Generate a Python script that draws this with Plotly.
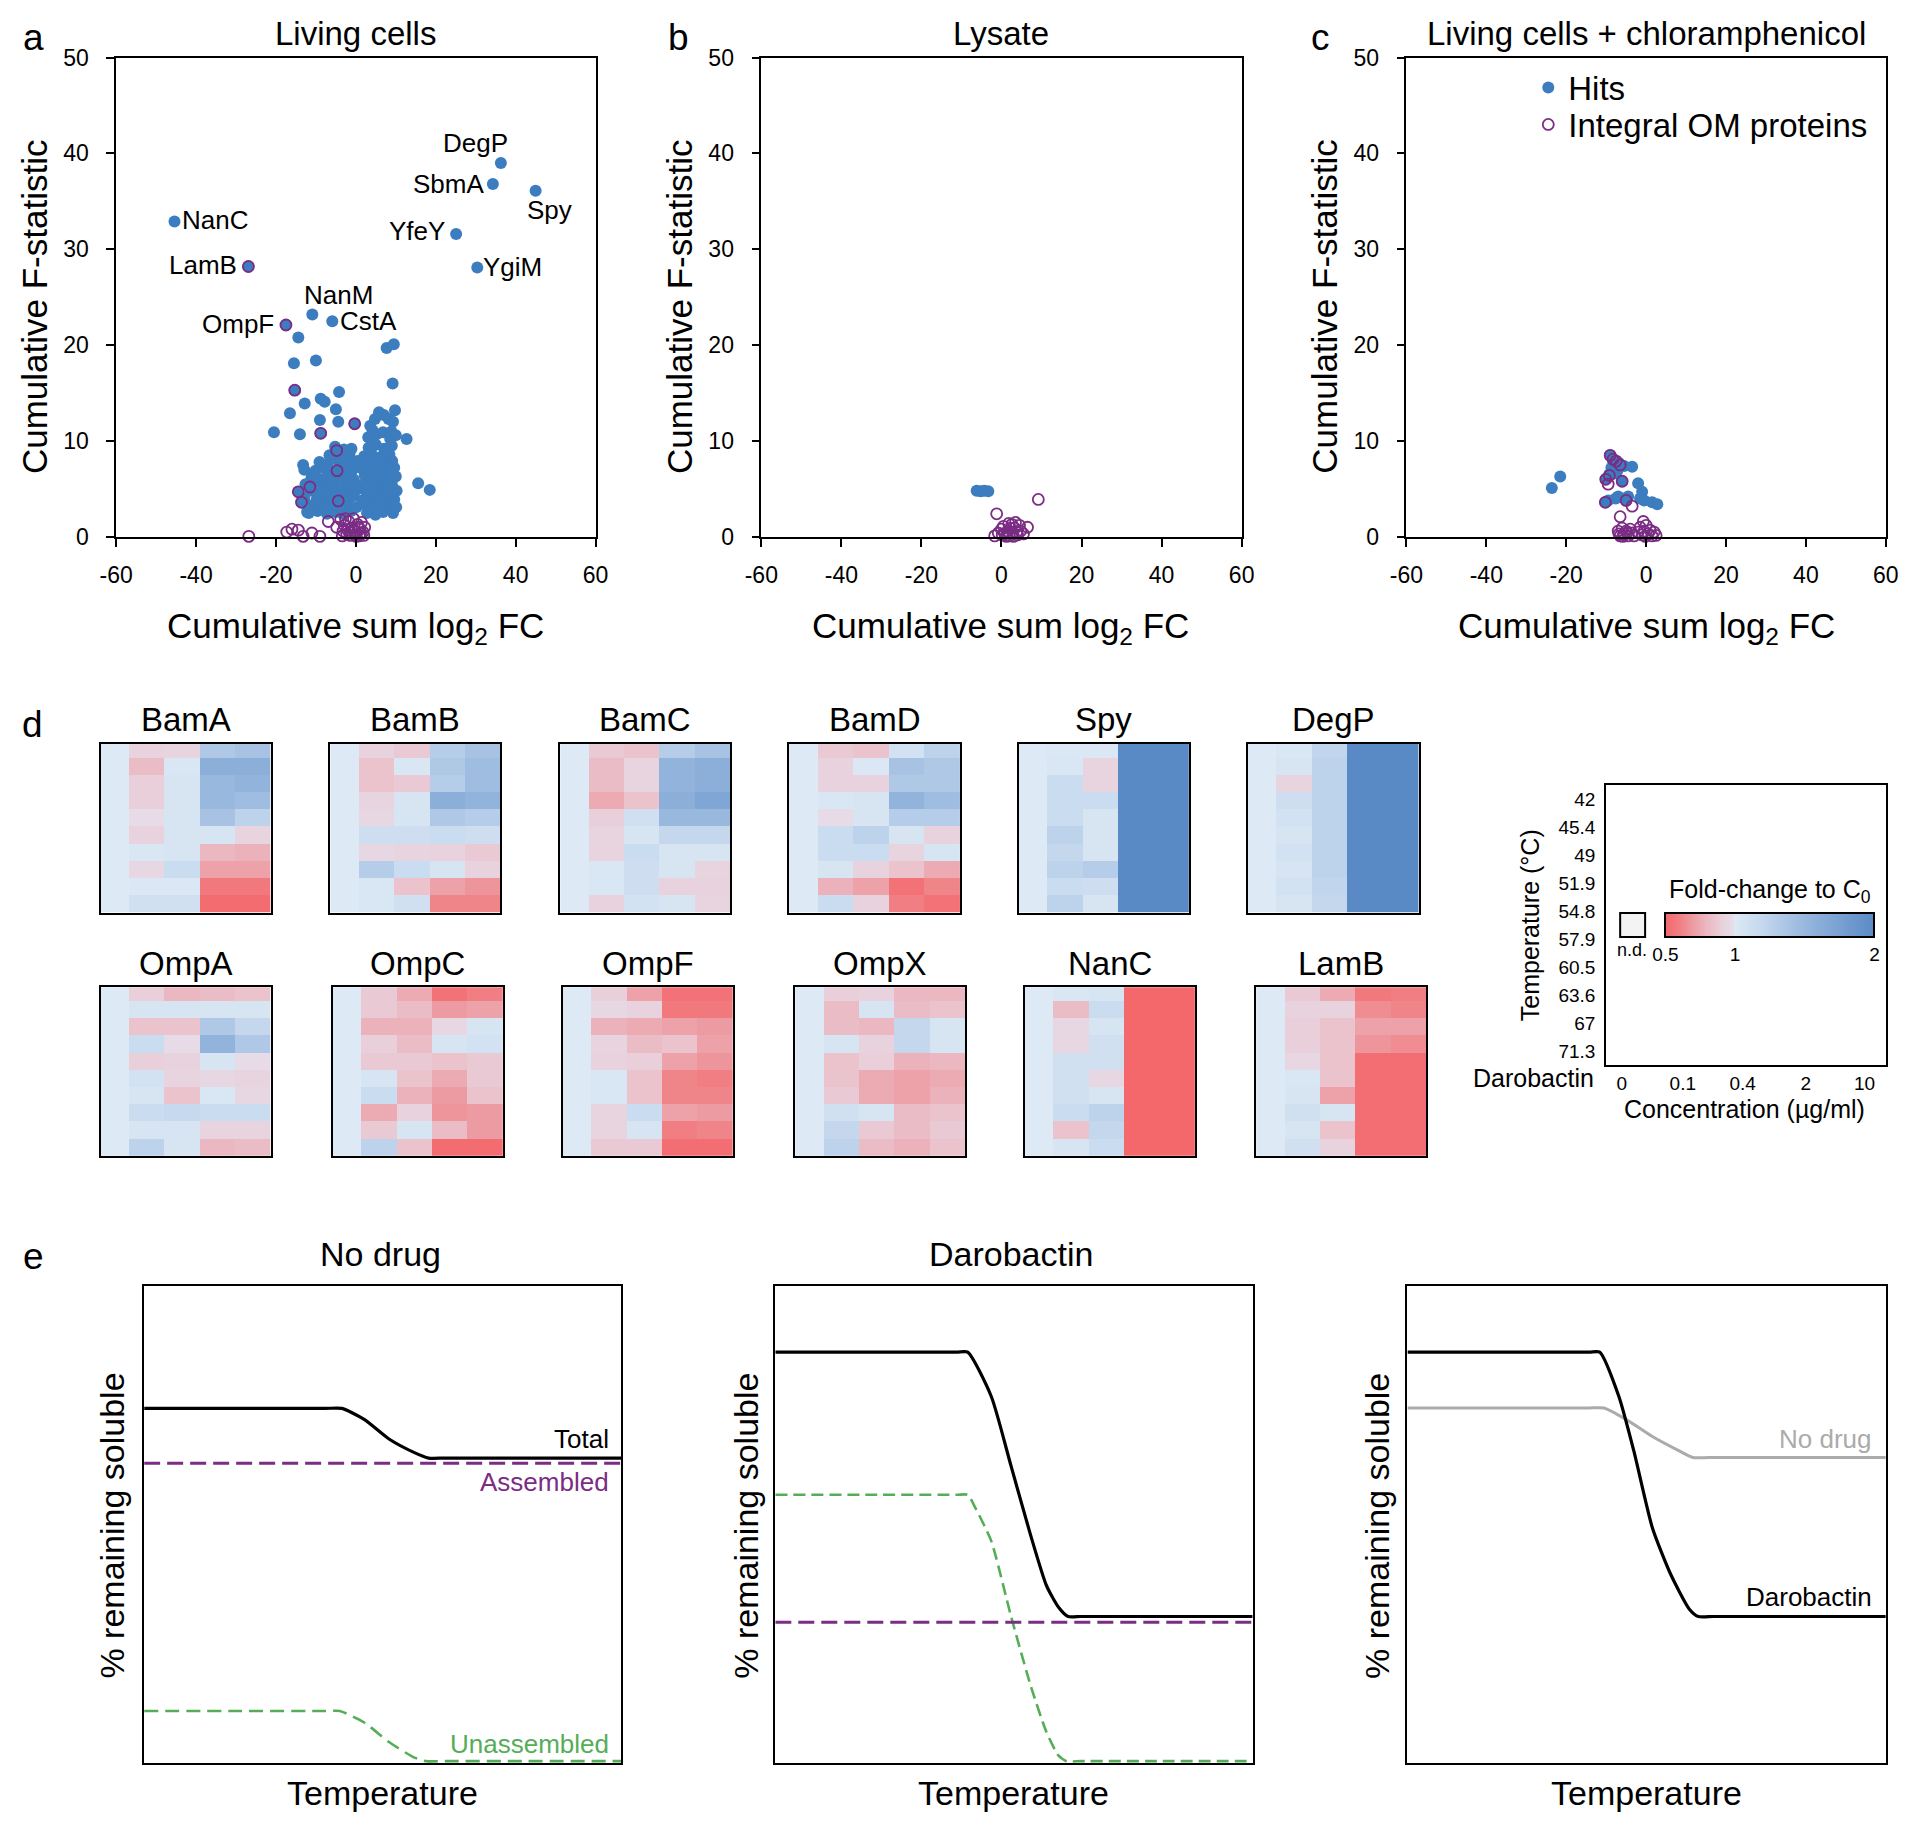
import plotly.graph_objects as go

W, H = 1920, 1826
FONT = "Liberation Sans, Arial, Helvetica, sans-serif"
BLUE = "#3B7DBE"
PURPLE = "#7B2C84"
GREEN = "#55AE57"
GREY = "#ABABAB"

# ---------------- panel a : Living cells ----------------
a_hits = [
    (-45.4, 32.9), (-26.9, 28.2), (-17.5, 22.1), (-10.9, 23.2), (-5.9, 22.5),
    (36.3, 39.0), (34.3, 36.8), (45.0, 36.1), (25.1, 31.6), (30.4, 28.1),
    (-14.4, 20.8), (7.7, 19.7), (9.5, 20.1), (-15.5, 18.1), (-10.0, 18.4), (9.2, 16.0),
    (-15.3, 15.3), (-4.2, 15.1), (-8.8, 14.4), (-7.8, 14.1), (-12.8, 13.9), (-5.0, 13.3),
    (-16.5, 12.9), (-9.0, 12.2), (-4.4, 12.0), (-0.3, 11.8), (5.8, 13.0), (4.8, 12.3),
    (9.8, 13.2), (9.3, 12.0), (8.2, 12.3), (7.0, 12.7), (-20.5, 10.9), (-14.0, 10.7),
    (-8.8, 10.8), (12.7, 10.2), (3.1, 10.4), (6.8, 10.9), (8.6, 10.2), (-1.1, 9.2),
    (-4.8, 9.0), (-13.2, 7.5), (-4.7, 6.9), (15.6, 5.6), (18.5, 4.9), (-14.4, 4.7),
    (-11.5, 5.2), (-13.6, 3.6), (-4.4, 3.75), (-12.2, 2.6),
    (-11.8, 2.5), (-9.6, 2.7), (-7.2, 2.4), (-5.1, 2.6), (-3.3, 2.4), (-1.2, 2.7), (2.8, 2.5),
    (4.9, 2.3), (6.8, 2.6), (9.3, 2.5),
    (-10.7, 3.3), (-8.4, 3.1), (-6.3, 3.4), (-3.9, 3.2), (-2.1, 3.5), (0.2, 3.1), (2.4, 3.4),
    (4.3, 3.2), (6.4, 3.5), (8.6, 3.3), (10.1, 3.1),
    (-12.9, 4.0), (-9.8, 3.9), (-7.9, 4.2), (-5.6, 4.1), (-2.8, 3.9), (-0.9, 4.2), (1.6, 3.8),
    (3.6, 4.1), (5.5, 3.9), (7.6, 4.2), (9.6, 3.9),
    (-11.4, 4.8), (-9.1, 4.6), (-6.8, 5.0), (-4.6, 4.7), (-2.4, 4.9), (-0.4, 4.6), (2.1, 4.9),
    (4.1, 4.7), (6.2, 5.0), (8.1, 4.6), (10.2, 4.8),
    (-12.6, 5.5), (-10.2, 5.7), (-8.1, 5.4), (-6.0, 5.6), (-3.5, 5.3), (-1.6, 5.7), (0.6, 5.4),
    (3.0, 5.6), (5.1, 5.3), (7.2, 5.7), (9.0, 5.5),
    (-11.1, 6.2), (-8.9, 6.0), (-7.1, 6.4), (-5.2, 6.1), (-2.6, 6.3), (-0.6, 6.0), (2.2, 6.4),
    (4.0, 6.1), (6.0, 6.3), (8.0, 6.0), (10.0, 6.3),
    (-12.9, 7.0), (-10.1, 6.9), (-8.0, 7.2), (-6.1, 6.8), (-3.1, 7.1), (-1.0, 6.9), (1.1, 7.2),
    (3.6, 6.8), (5.6, 7.1), (7.5, 6.9), (9.6, 7.2),
    (-9.1, 7.8), (-7.0, 7.6), (-4.4, 8.0), (-2.1, 7.7), (0.4, 7.9), (3.0, 7.6), (5.1, 8.0),
    (7.1, 7.7), (9.1, 7.9),
    (-6.6, 8.5), (-3.9, 8.3), (-1.6, 8.7), (2.1, 8.4), (4.0, 8.6), (6.1, 8.3), (8.4, 8.6),
    (-5.2, 9.4), (-3.0, 9.1), (3.2, 9.3), (5.0, 9.6), (7.1, 9.2), (9.0, 9.5),
    (4.2, 11.1), (5.2, 10.7), (8.9, 11.0), (10.0, 10.6), (3.6, 11.6),
]
a_om = [
    (-26.9, 28.2), (-17.5, 22.1), (-15.3, 15.3), (-0.3, 11.8), (-8.8, 10.8), (-4.8, 9.0),
    (-4.7, 6.9), (-14.4, 4.7), (-11.5, 5.2), (-13.6, 3.6), (-4.4, 3.75),
    (-26.8, 0.05), (-17.3, 0.5), (-16.0, 0.8), (-14.4, 0.7), (-13.2, 0.05), (-11.0, 0.4),
    (-9.0, 0.05), (-6.9, 1.6), (-4.8, 1.0), (-3.2, 0.6), (-1.5, 0.45), (-0.25, 0.2), (1.0, 0.8),
    (-3.8, 1.8), (-2.9, 1.2), (-2.3, 0.3), (-1.8, 1.6), (-1.1, 0.9), (-0.6, 1.9), (-0.2, 0.6),
    (0.4, 1.3), (0.9, 0.1), (1.4, 1.5), (1.8, 0.5), (2.2, 1.0), (-3.4, 0.1), (-2.0, 0.7),
    (0.1, 0.05), (1.2, 0.35), (-1.4, 0.15), (0.7, 1.0), (-2.6, 1.9), (2.0, 0.15),
]
a_names = ["DegP", "SbmA", "Spy", "YfeY", "YgiM", "NanC", "LamB", "NanM", "OmpF", "CstA"]

# ---------------- panel b : Lysate ----------------
b_hits = [(-6.2, 4.8), (-5.2, 4.75), (-4.3, 4.8), (-3.3, 4.75)]
b_om = [
    (9.2, 3.9), (-1.2, 2.4), (6.5, 1.0), (3.5, 1.5), (2.6, 1.3), (-1.7, 0.1), (0.0, 0.8),
    (0.8, 0.3), (1.5, 0.6), (2.0, 0.1), (2.8, 0.4), (3.3, 0.9), (4.0, 0.2), (4.8, 0.6),
    (5.5, 0.3), (0.5, 1.1), (1.2, 0.05), (2.3, 0.9), (3.8, 0.5), (-0.8, 0.4), (4.5, 1.2),
    (1.8, 1.4), (0.2, 0.2), (3.0, 0.05),
]

# ---------------- panel c : Living cells + chloramphenicol ----------------
c_hits = [
    (-23.6, 5.1), (-21.5, 6.3), (-9.0, 8.5), (-8.3, 8.1), (-6.8, 7.7), (-5.5, 7.4), (-3.5, 7.3),
    (-10.1, 6.0), (-9.2, 6.5), (-8.0, 6.6), (-6.0, 5.8), (-2.0, 5.6), (-1.0, 4.7), (-10.2, 3.6),
    (-9.5, 3.8), (-7.6, 4.0), (-5.0, 3.8), (-0.5, 3.8), (1.5, 3.6), (2.8, 3.4), (-7.0, 4.2),
    (-1.5, 4.0), (-4.5, 4.2), (-8.7, 7.2), (-7.2, 6.9),
]
c_om = [
    (-9.0, 8.5), (-8.3, 8.1), (-7.5, 7.9), (-6.5, 7.5), (-10.1, 6.0), (-9.5, 5.5), (-9.2, 6.4),
    (-6.0, 5.8), (-10.2, 3.6), (-5.0, 3.8), (-3.5, 3.2), (-6.5, 2.1), (-0.7, 1.6),
    (-7.0, 0.6), (-6.5, 0.1), (-6.0, 0.9), (-5.5, 0.3), (-5.0, 0.6), (-4.5, 0.1), (-4.0, 0.8),
    (-3.5, 0.4), (-3.0, 0.1), (-2.0, 0.5), (-1.5, 1.0), (-1.0, 0.2), (-0.5, 0.6), (0.0, 1.2),
    (0.5, 0.3), (1.0, 0.7), (1.5, 0.1), (2.0, 0.5), (2.5, 0.15), (-6.8, 0.3), (-5.8, 0.05),
    (-4.8, 0.4), (-0.2, 0.05),
]
x_ticks = [-60, -40, -20, 0, 20, 40, 60]
y_ticks = [0, 10, 20, 30, 40, 50]

# ---------------- panel d : fold change heatmaps ----------------
temps = ["42", "45.4", "49", "51.9", "54.8", "57.9", "60.5", "63.6", "67", "71.3"]
concs = ["0", "0.1", "0.4", "2", "10"]

bamA = [[1, 0.92, 0.93, 1.35, 1.40], [1, 0.82, 1.03, 1.60, 1.60], [1, 0.90, 1.05, 1.50, 1.55],
        [1, 0.90, 1.05, 1.50, 1.45], [1, 0.97, 1.05, 1.40, 1.25], [1, 0.92, 1.05, 1.05, 0.93],
        [1, 1.03, 1.05, 0.80, 0.78], [1, 0.95, 1.15, 0.72, 0.72], [1, 1.02, 1.02, 0.58, 0.58],
        [1, 1.10, 1.10, 0.52, 0.52]]
bamB = [[1, 0.92, 0.88, 1.30, 1.40], [1, 0.85, 1.03, 1.35, 1.45], [1, 0.85, 0.88, 1.30, 1.45],
        [1, 0.93, 1.05, 1.60, 1.55], [1, 0.95, 1.05, 1.35, 1.30], [1, 1.12, 1.12, 1.15, 1.12],
        [1, 0.95, 0.93, 0.92, 0.88], [1, 1.30, 1.15, 1.05, 0.92], [1, 1.03, 0.85, 0.72, 0.68],
        [1, 1.03, 1.10, 0.62, 0.62]]
bamC = [[1, 0.88, 0.85, 1.30, 1.40], [1, 0.82, 0.93, 1.55, 1.60], [1, 0.82, 0.93, 1.55, 1.60],
        [1, 0.75, 0.85, 1.60, 1.70], [1, 0.90, 1.10, 1.50, 1.50], [1, 0.93, 1.05, 1.20, 1.20],
        [1, 0.93, 1.15, 1.05, 1.05], [1, 1.03, 1.12, 1.05, 0.93], [1, 1.03, 1.12, 0.92, 0.92],
        [1, 0.92, 1.08, 1.05, 0.93]]
bamD = [[1, 0.88, 0.85, 1.08, 1.25], [1, 0.92, 1.02, 1.40, 1.35], [1, 0.92, 0.92, 1.35, 1.35],
        [1, 1.03, 1.05, 1.55, 1.45], [1, 0.97, 1.05, 1.30, 1.30], [1, 1.15, 1.25, 1.05, 0.92],
        [1, 1.15, 1.15, 0.93, 1.05], [1, 1.05, 0.92, 0.85, 0.75], [1, 0.78, 0.72, 0.55, 0.62],
        [1, 1.15, 0.92, 0.60, 0.55]]
spy = [[1, 1.02, 1.02, 2, 2], [1, 1.03, 0.93, 2, 2], [1, 1.15, 0.93, 2, 2], [1, 1.15, 1.15, 2, 2],
       [1, 1.15, 1.05, 2, 2], [1, 1.25, 1.05, 2, 2], [1, 1.20, 1.05, 2, 2], [1, 1.25, 1.30, 2, 2],
       [1, 1.15, 1.12, 2, 2], [1, 1.25, 1.05, 2, 2]]
degP = [[1, 1.03, 1.22, 2, 2], [1, 1.05, 1.25, 2, 2], [1, 0.93, 1.25, 2, 2], [1, 1.12, 1.25, 2, 2],
        [1, 1.08, 1.25, 2, 2], [1, 1.05, 1.25, 2, 2], [1, 1.08, 1.25, 2, 2], [1, 1.05, 1.25, 2, 2],
        [1, 1.08, 1.22, 2, 2], [1, 1.05, 1.20, 2, 2]]
ompA = [[1, 0.90, 0.80, 0.82, 0.85], [1, 1.05, 1.05, 1.05, 1.05], [1, 0.85, 0.85, 1.35, 1.20],
        [1, 1.15, 0.97, 1.55, 1.35], [1, 0.90, 0.92, 1.05, 0.97], [1, 1.08, 0.93, 0.95, 0.93],
        [1, 1.05, 0.85, 1.03, 0.95], [1, 1.15, 1.18, 1.15, 1.15], [1, 1.05, 1.05, 0.93, 0.93],
        [1, 1.25, 1.05, 0.80, 0.82]]
ompC = [[1, 0.88, 0.75, 0.55, 0.60], [1, 0.88, 0.82, 0.70, 0.72], [1, 0.78, 0.78, 0.95, 1.05],
        [1, 0.90, 0.82, 1.05, 1.08], [1, 0.88, 0.88, 0.85, 0.88], [1, 1.05, 0.85, 0.75, 0.88],
        [1, 1.15, 0.78, 0.70, 0.85], [1, 0.75, 0.92, 0.68, 0.70], [1, 0.88, 1.05, 0.82, 0.70],
        [1, 1.25, 0.85, 0.52, 0.52]]
ompF = [[1, 0.90, 0.72, 0.55, 0.55], [1, 0.95, 0.92, 0.58, 0.58], [1, 0.78, 0.75, 0.72, 0.70],
        [1, 0.93, 0.82, 0.85, 0.72], [1, 0.92, 0.90, 0.72, 0.68], [1, 1.03, 0.85, 0.62, 0.60],
        [1, 1.03, 0.85, 0.62, 0.62], [1, 0.93, 1.15, 0.72, 0.70], [1, 0.93, 1.05, 0.60, 0.62],
        [1, 0.88, 0.88, 0.53, 0.53]]
ompX = [[1, 0.90, 0.92, 0.80, 0.80], [1, 0.82, 1.05, 0.82, 0.85], [1, 0.82, 0.80, 1.20, 1.05],
        [1, 1.05, 0.92, 1.20, 1.05], [1, 0.85, 0.90, 0.78, 0.80], [1, 0.85, 0.75, 0.72, 0.75],
        [1, 0.88, 0.75, 0.72, 0.78], [1, 1.10, 1.05, 0.82, 0.85], [1, 1.20, 0.88, 0.82, 0.88],
        [1, 1.25, 0.82, 0.78, 0.85]]
nanC = [[1, 1.03, 1.05, 0.5, 0.5], [1, 0.82, 1.15, 0.5, 0.5], [1, 0.95, 1.05, 0.5, 0.5],
        [1, 0.95, 1.10, 0.5, 0.5], [1, 1.10, 1.10, 0.5, 0.5], [1, 1.10, 0.95, 0.5, 0.5],
        [1, 1.10, 1.05, 0.5, 0.5], [1, 1.15, 1.25, 0.5, 0.5], [1, 0.85, 1.20, 0.5, 0.5],
        [1, 1.05, 1.15, 0.5, 0.5]]
lamB = [[1, 0.88, 0.75, 0.58, 0.60], [1, 0.92, 0.92, 0.65, 0.62], [1, 0.90, 0.85, 0.72, 0.72],
        [1, 0.90, 0.85, 0.68, 0.65], [1, 0.95, 0.85, 0.53, 0.53], [1, 1.03, 0.85, 0.53, 0.53],
        [1, 1.05, 0.72, 0.53, 0.53], [1, 1.10, 1.05, 0.53, 0.53], [1, 1.05, 0.85, 0.53, 0.53],
        [1, 1.10, 0.92, 0.53, 0.53]]
heat_names = ["BamA", "BamB", "BamC", "BamD", "Spy", "DegP",
              "OmpA", "OmpC", "OmpF", "OmpX", "NanC", "LamB"]
heat_values = [bamA, bamB, bamC, bamD, spy, degP, ompA, ompC, ompF, ompX, nanC, lamB]
cbar_ticks = [0.5, 1, 2]

# ---------------- panel e : schematic melting curves ----------------
e1_total_t = [0, 0.2, 0.38, 0.414, 0.461, 0.513, 0.565, 0.596, 0.63, 0.8, 1.0]
e1_total_v = [0.743, 0.743, 0.743, 0.743, 0.72, 0.679, 0.651, 0.639, 0.639, 0.639, 0.639]
e1_assembled_t = [0, 1.0]
e1_assembled_v = [0.628, 0.628]
e1_unassembled_t = [0, 0.2, 0.38, 0.41, 0.461, 0.513, 0.565, 0.591, 0.63, 0.8, 1.0]
e1_unassembled_v = [0.109, 0.109, 0.109, 0.109, 0.085, 0.044, 0.012, 0.004, 0.004, 0.004, 0.004]
e2_total_t = [0, 0.2, 0.38, 0.403, 0.4525, 0.494, 0.535, 0.568, 0.593, 0.6135, 0.64, 0.8, 1.0]
e2_total_v = [0.861, 0.861, 0.861, 0.861, 0.768, 0.622, 0.477, 0.372, 0.327, 0.307, 0.307,
              0.307, 0.307]
e2_assembled_t = [0, 1.0]
e2_assembled_v = [0.295, 0.295]
e2_unassembled_t = [0, 0.2, 0.38, 0.403, 0.42, 0.4525, 0.494, 0.535, 0.568, 0.593, 0.61, 0.64,
                    0.8, 1.0]
e2_unassembled_v = [0.562, 0.562, 0.562, 0.562, 0.533, 0.465, 0.307, 0.162, 0.065, 0.016, 0.004,
                    0.004, 0.004, 0.004]
e3_daro_t = [0, 0.2, 0.38, 0.402, 0.442, 0.473, 0.512, 0.55, 0.589, 0.608, 0.64, 0.8, 1.0]
e3_daro_v = [0.861, 0.861, 0.861, 0.861, 0.768, 0.655, 0.493, 0.396, 0.323, 0.307, 0.307,
             0.307, 0.307]
e3_nodrug_t = [0, 0.2, 0.38, 0.411, 0.457, 0.512, 0.566, 0.597, 0.63, 0.8, 1.0]
e3_nodrug_v = [0.744, 0.744, 0.744, 0.744, 0.72, 0.684, 0.655, 0.64, 0.64, 0.64, 0.64]

# =====================================================================
# pixel placement helpers (target pixel positions of the reference page)
SX, OX = 0.9857, 24.7
SY, OY = 0.9872, 19.4


def px(x):
    return (x - OX) / SX / W


def py(y):
    return 1 - (y - OY) / SY / H


fig = go.Figure()
layout = dict(width=W, height=H, margin=dict(l=0, r=0, t=0, b=0),
              paper_bgcolor="white", plot_bgcolor="white",
              font=dict(family=FONT, color="black"))
annotations = []


def ref(i):
    return ("x", "y") if i == 1 else (f"x{i}", f"y{i}")


def add_axes(i, x0, x1, y0, y1, xcfg, ycfg):
    xk = "xaxis" if i == 1 else f"xaxis{i}"
    yk = "yaxis" if i == 1 else f"yaxis{i}"
    xr, yr = ref(i)
    layout[xk] = dict(domain=[px(x0), px(x1)], anchor=yr, **xcfg)
    layout[yk] = dict(domain=[py(y1), py(y0)], anchor=xr, **ycfg)
    return xr, yr


def ann(text, x, y, size, color="black", angle=0, xanchor="center", yanchor="middle"):
    annotations.append(dict(text=text, x=px(x), y=py(y), xref="paper", yref="paper",
                            showarrow=False, textangle=angle, xanchor=xanchor, yanchor=yanchor,
                            font=dict(family=FONT, size=size, color=color)))


def frame_axis(**kw):
    d = dict(showline=True, linewidth=2, linecolor="black", mirror=True,
             showgrid=False, zeroline=False, ticks="", showticklabels=False)
    d.update(kw)
    return d


# ---------- scatter panels ----------
def sc_x():
    return dict(range=[-60, 60], tickvals=x_ticks, ticktext=[str(v) for v in x_ticks],
                ticks="outside", ticklen=8, tickwidth=1.5, tickcolor="black", showline=True,
                linewidth=1.5, linecolor="black", mirror=True, showgrid=False, zeroline=False,
                tickfont=dict(family=FONT, size=23, color="black"), ticklabelstandoff=9)


def sc_y():
    return dict(range=[0, 50], tickvals=y_ticks, ticktext=[str(v) for v in y_ticks],
                ticks="outside", ticklen=8, tickwidth=1.5, tickcolor="black", showline=True,
                linewidth=1.5, linecolor="black", mirror=True, showgrid=False, zeroline=False,
                tickfont=dict(family=FONT, size=23, color="black"), ticklabelstandoff=13)


scatter_panels = [
    (1, 116, 596, a_hits, a_om, True),
    (2, 762, 1243, b_hits, b_om, False),
    (3, 1408, 1888, c_hits, c_om, False),
]
for i, x0, x1, hits, om, leg in scatter_panels:
    xr, yr = add_axes(i, x0, x1, 56, 536, sc_x(), sc_y())
    fig.add_trace(go.Scatter(x=[p[0] for p in hits], y=[p[1] for p in hits], mode="markers",
                             xaxis=xr, yaxis=yr, name="Hits", showlegend=leg, cliponaxis=False,
                             legend="legend",
                             marker=dict(symbol="circle", size=12, color=BLUE, line=dict(width=0))))
    fig.add_trace(go.Scatter(x=[p[0] for p in om], y=[p[1] for p in om], mode="markers",
                             xaxis=xr, yaxis=yr, name="Integral OM proteins", showlegend=leg,
                             cliponaxis=False, legend="legend2",
                             marker=dict(symbol="circle-open", size=11, color=PURPLE,
                                         line=dict(width=1.8, color=PURPLE))))

# labels of named proteins in panel a
a_label_pos = [(29.9, 41.1), (23.3, 36.8), (48.6, 34.1), (15.4, 31.9), (39.3, 28.2),
               (-35.3, 33.1), (-38.3, 28.4), (-4.4, 25.2), (-29.4, 22.2), (3.2, 22.5)]
for name, (lx, ly) in zip(a_names, a_label_pos):
    annotations.append(dict(text=name, x=lx, y=ly, xref="x", yref="y", showarrow=False,
                            xanchor="center", yanchor="middle",
                            font=dict(family=FONT, size=26, color="black")))

for letter, lx in [("a", 33.6), ("b", 679.5), ("c", 1322)]:
    ann(letter, lx, 36, 37)
ann("Living cells", 356, 31.6, 33)
ann("Lysate", 1002, 31.6, 33)
ann("Living cells + chloramphenicol", 1648, 31.6, 33)
for yx in [33.6, 679.5, 1326]:
    ann("Cumulative F-statistic", yx, 305, 35, angle=-90)
for cx in [356, 1002, 1648]:
    ann("Cumulative sum log<sub>2</sub> FC", cx, 627, 35)

# ---------- heatmaps ----------
heat_boxes = [
    (100.4, 270.6, 743.3, 912.3), (330.6, 500.8, 743.3, 912.3), (560.8, 731.0, 743.3, 912.3),
    (789.8, 961.2, 743.3, 912.3), (1020.0, 1190.2, 743.3, 912.3), (1249.0, 1420.4, 743.3, 912.3),
    (100.4, 270.6, 987.0, 1156.0), (333.0, 503.3, 987.0, 1156.0), (563.3, 733.5, 987.0, 1156.0),
    (796.0, 966.0, 987.0, 1156.0), (1026.0, 1196.3, 987.0, 1156.0), (1257.6, 1427.8, 987.0, 1156.0),
]
cscale = [
    [0.0, "rgb(244,103,107)"], [0.0667, "rgb(240,126,131)"], [0.1333, "rgb(237,155,162)"],
    [0.2, "rgb(235,184,193)"], [0.2667, "rgb(232,207,217)"], [0.326, "rgb(229,222,233)"],
    [0.3334, "rgb(221,233,245)"], [0.4667, "rgb(196,215,237)"], [0.6667, "rgb(152,184,222)"],
    [1.0, "rgb(90,138,198)"],
]
for k, (name, z, (x0, x1, y0, y1)) in enumerate(zip(heat_names, heat_values, heat_boxes)):
    i = 4 + k
    xr, yr = add_axes(i, x0, x1, y0, y1,
                      frame_axis(range=[-0.3, 4.5]), frame_axis(range=[9.5, -0.3]))
    fig.add_trace(go.Heatmap(z=z, x=list(range(len(concs))), y=list(range(len(temps))),
                             xaxis=xr, yaxis=yr, coloraxis="coloraxis", hoverinfo="skip"))
    ann(name, (x0 + x1) / 2, y0 - 24, 33)
ann("d", 32, 724, 37)

# legend frame of panel d
xr, yr = add_axes(16, 1608, 1888, 785, 1065,
                  frame_axis(range=[-0.5, 4.5], showticklabels=True,
                             tickvals=[-0.22, 0.87, 1.94, 3.07, 4.12], ticktext=concs,
                             tickfont=dict(family=FONT, size=19, color="black"),
                             ticklabelstandoff=0),
                  frame_axis(range=[9.5, -0.5], showticklabels=True,
                             tickvals=list(range(len(temps))), ticktext=temps,
                             tickfont=dict(family=FONT, size=19, color="black"),
                             ticklabelstandoff=5))
fig.add_trace(go.Scatter(x=[0], y=[0], mode="markers", xaxis=xr, yaxis=yr,
                         marker=dict(opacity=0), showlegend=False, hoverinfo="skip"))
ann("Temperature (°C)", 1531.7, 925, 25, angle=-90)
ann("Darobactin", 1598, 1078, 25, xanchor="right")
ann("Concentration (µg/ml)", 1747, 1109, 25)
ann("Fold-change to C<sub>0</sub>", 1772, 891, 25)
ann("n.d.", 1634, 950, 18)

layout["coloraxis"] = dict(
    colorscale=cscale, cmin=0.5, cmax=2,
    colorbar=dict(orientation="h", x=px(1772), xanchor="center", y=py(912.7),
                  yanchor="top", len=209, lenmode="pixels", thickness=24,
                  thicknessmode="pixels", outlinewidth=2, outlinecolor="black",
                  tickvals=cbar_ticks, ticktext=[str(v) for v in cbar_ticks], ticks="",
                  tickfont=dict(family=FONT, size=19, color="black"), xpad=0, ypad=0))

shapes = [dict(type="rect", xref="paper", yref="paper", x0=px(1622), x1=px(1647),
               y0=py(936.7), y1=py(912.7), fillcolor="#F3F3F3",
               line=dict(color="black", width=2))]

# ---------- panel e ----------
e_boxes = [(144, 622), (776, 1254), (1409, 1888)]
e_curves = [
    [(e1_unassembled_t, e1_unassembled_v, GREEN, "14px,7px", 2.6),
     (e1_assembled_t, e1_assembled_v, PURPLE, "16px,7px", 3),
     (e1_total_t, e1_total_v, "black", "solid", 3.2)],
    [(e2_unassembled_t, e2_unassembled_v, GREEN, "12px,6px", 2.6),
     (e2_assembled_t, e2_assembled_v, PURPLE, "16px,7px", 3),
     (e2_total_t, e2_total_v, "black", "solid", 3.2)],
    [(e3_nodrug_t, e3_nodrug_v, GREY, "solid", 3),
     (e3_daro_t, e3_daro_v, "black", "solid", 3.2)],
]
for k, ((x0, x1), curves) in enumerate(zip(e_boxes, e_curves)):
    i = 17 + k
    xr, yr = add_axes(i, x0, x1, 1286, 1764, frame_axis(range=[0, 1]), frame_axis(range=[0, 1]))
    for t, v, col, dash, lw in curves:
        fig.add_trace(go.Scatter(x=t, y=v, mode="lines", xaxis=xr, yaxis=yr, showlegend=False,
                                 hoverinfo="skip",
                                 line=dict(color=col, width=lw, dash=dash, shape="spline",
                                           smoothing=0.6)))
    ann("% remaining soluble", [112, 747, 1379][k], 1526, 34, angle=-90)
    ann("Temperature", (x0 + x1) / 2, 1794, 34)

e_labels = [
    (17, "Total", 0.979, 0.679, "black"), (17, "Assembled", 0.979, 0.588, PURPLE),
    (17, "Unassembled", 0.979, 0.04, GREEN),
    (19, "No drug", 0.975, 0.679, GREY), (19, "Darobactin", 0.975, 0.348, "black"),
]
for i, txt, lx, ly, col in e_labels:
    xr, yr = ref(i)
    annotations.append(dict(text=txt, x=lx, y=ly, xref=xr, yref=yr, showarrow=False,
                            xanchor="right", yanchor="middle",
                            font=dict(family=FONT, size=26, color=col)))
ann("e", 33, 1257, 37)
ann("No drug", 380.6, 1254, 34)
ann("Darobactin", 1012.4, 1254, 34)

layout["annotations"] = annotations
layout["shapes"] = shapes
legend_style = dict(xanchor="left", yanchor="top", font=dict(family=FONT, size=33, color="black"),
                    bgcolor="rgba(0,0,0,0)", tracegroupgap=0)
layout["legend"] = dict(x=px(1530), y=py(58), **legend_style)
layout["legend2"] = dict(x=px(1530), y=py(95), **legend_style)
fig.update_layout(**layout)
fig.write_html("out.html")
